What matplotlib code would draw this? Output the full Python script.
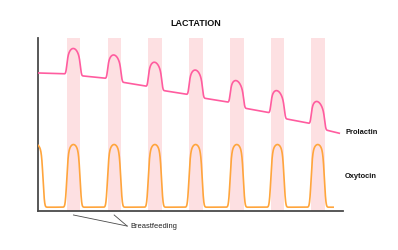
import numpy as np
import matplotlib
matplotlib.use("Agg")
import matplotlib.pyplot as plt

plt.rcParams['font.family'] = ['Liberation Sans', 'DejaVu Sans']

# time axis: one unit = one feeding cycle, levels on a 0-100 scale
band_start = [0.71, 1.71, 2.71, 3.71, 4.72, 5.72, 6.71]
band_end = [1.04, 2.04, 3.04, 4.04, 5.05, 6.05, 7.04]

prl_start = 79.8
prl_before = [79.2, 76.5, 71.8, 67.1, 62.6, 56.5, 50.3]
prl_peak = [94.0, 90.2, 86.0, 81.5, 75.3, 69.5, 63.2]
prl_after = [78.3, 74.7, 69.9, 65.5, 59.7, 53.6, 47.2]
prl_end = (7.40, 44.9)

oxy_centers = [-0.04, 0.87, 1.87, 2.87, 3.87, 4.88, 5.88, 6.87]
oxy_high = 38.6
oxy_low = 2.2
oxy_end = 7.25

x_max = 7.49

band_color = '#fde0e2'
prl_color = '#ff5c9f'
oxy_color = '#ffa53c'
axis_color = '#4a4a4a'


def arch(t, c, w, b):
    # rounded pulse: vertical sides, rounded top
    u = np.abs((t - c) / w)
    y = np.zeros_like(t)
    m = u < 1
    y[m] = (1 - u[m] ** 2) ** (1 / b)
    return y


def smooth(y, sigma):
    k = np.exp(-0.5 * (np.arange(-4 * sigma, 4 * sigma + 1) / sigma) ** 2)
    k /= k.sum()
    pad = len(k) // 2
    yp = np.concatenate([np.full(pad, y[0]), y, np.full(pad, y[-1])])
    return np.convolve(yp, k, mode='valid')


t = np.arange(-0.5, 7.6, 0.002)

# prolactin: stepped declining baseline with a bump in each band
knots_t = [0.0]
knots_y = [prl_start]
for s, e, b, a in zip(band_start, band_end, prl_before, prl_after):
    knots_t += [s + 0.03, e - 0.03]
    knots_y += [b, a]
knots_t.append(prl_end[0])
knots_y.append(prl_end[1])
prl = np.interp(t, knots_t, knots_y)
for s, e, b, a, p in zip(band_start, band_end, prl_before, prl_after, prl_peak):
    c = (s + e) / 2
    prl += (p - (b + a) / 2) * arch(t, c, 0.175, 2.8)
prl = smooth(prl, 10)

oxy = np.full_like(t, oxy_low)
for c in oxy_centers:
    oxy += (oxy_high - oxy_low) * arch(t, c, 0.17, 6)
oxy = smooth(oxy, 14)

fig = plt.figure(figsize=(3.98, 2.5), dpi=100)
ax = fig.add_axes([38 / 398, 1 - 211 / 250, 305 / 398, 173 / 250])

for s, e in zip(band_start, band_end):
    ax.axvspan(s, e, color=band_color, lw=0, zorder=0)

mp = (t >= 0) & (t <= prl_end[0])
ax.plot(t[mp], prl[mp], color=prl_color, lw=1.2, zorder=3)
mo = (t >= 0) & (t <= oxy_end)
ax.plot(t[mo], oxy[mo], color=oxy_color, lw=1.2, zorder=3)

ax.set_xlim(0, x_max)
ax.set_ylim(0, 100)
for side in ['top', 'right']:
    ax.spines[side].set_visible(False)
for side in ['left', 'bottom']:
    ax.spines[side].set_color(axis_color)
    ax.spines[side].set_linewidth(1.3)
ax.set_xticks([])
ax.set_yticks([])

fig.text(196 / 398, 1 - 23 / 250, 'LACTATION', ha='center', va='center',
         fontsize=6.5, fontweight='bold', color='#111111')
fig.text(345 / 398, 1 - 133 / 250, 'Prolactin', ha='left', va='center',
         fontsize=5.4, fontweight='bold', color='#111111')
fig.text(345 / 398, 1 - 176 / 250, 'Oxytocin', ha='left', va='center',
         fontsize=5.4, fontweight='bold', color='#111111')

# pointer lines to the first two feeding bands
for c in [0.87, 1.87]:
    ax.plot([c, 2.19], [-2.3, -8.7], color=axis_color, lw=0.6, clip_on=False)
ax.text(2.26, -8.7, 'Breastfeeding', ha='left', va='center',
        fontsize=5.4, color='#222222')

fig.savefig('out.png', dpi=100)
